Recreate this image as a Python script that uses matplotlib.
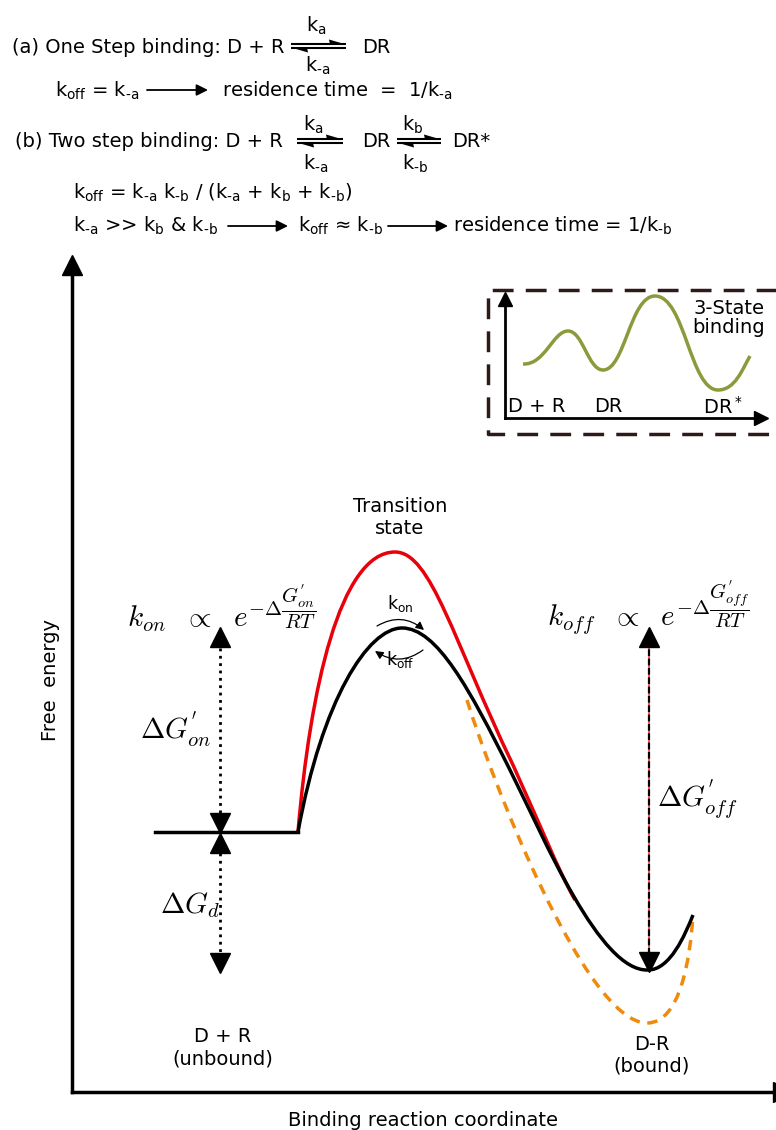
import matplotlib.pyplot as plt
from matplotlib.path import Path
from matplotlib.patches import PathPatch, Polygon

plt.rcParams['font.family'] = ['DejaVu Sans']
plt.rcParams['mathtext.fontset'] = 'dejavusans'

# energy profiles as cubic bezier nodes (start, c1, c2, end, c1, c2, end, ...), picture pixels
flat_x = [155, 298]
flat_y = [832, 832]
bound_x = [298, 322, 368, 402, 437, 470, 510, 545, 600, 648, 670, 685, 693]
bound_y = [832, 700, 628, 628, 628, 690, 770, 840, 972, 970, 970, 935, 915]
tight_x = [298, 310, 340, 395, 431, 453, 513, 538, 559, 575]
tight_y = [832, 690, 552, 552, 552, 640, 765, 820, 872, 900]
deep_x = [467, 490, 585, 647, 680, 690, 693]
deep_y = [700, 775, 1023, 1023, 1023, 960, 915]
# 3-state inset curve
inset_x = [523, 545, 553, 568, 583, 588, 603, 625, 630, 655, 685, 690, 718, 735, 742, 750]
inset_y = [364, 365, 331, 331, 331, 370, 370, 370, 296, 296, 296, 390, 390, 390, 370, 356]
inset_labels = ['D + R', 'DR', 'DR$^*$']

HY = '\u2010'  # short hyphen for the "-a" subscripts


def bezier(ax, xs, ys, **kw):
    verts = list(zip(xs, ys))
    codes = [Path.MOVETO] + [Path.CURVE4] * (len(verts) - 1)
    ax.add_patch(PathPatch(Path(verts, codes), fill=False, **kw))


def harpoon(ax, x0, x1, y):
    # equilibrium arrow: upper barb to the right, lower barb to the left
    ax.plot([x0, x1], [y - 2, y - 2], color='k', lw=1.5, solid_capstyle='butt')
    ax.plot([x0, x1], [y + 2, y + 2], color='k', lw=1.5, solid_capstyle='butt')
    ax.add_patch(Polygon([[x1, y - 1.5], [x1 - 16, y - 1.5], [x1 - 17, y - 6.5]], color='k', lw=0))
    ax.add_patch(Polygon([[x0, y + 1.5], [x0 + 16, y + 1.5], [x0 + 17, y + 6.5]], color='k', lw=0))


def arrow(ax, x0, x1, y):
    ax.annotate('', xy=(x1, y), xytext=(x0, y),
                arrowprops=dict(arrowstyle='-|>', lw=1.3, color='k', mutation_scale=17,
                                shrinkA=0, shrinkB=0))


def k(sub):
    return 'k$_\\mathrm{' + sub + '}$'


fig = plt.figure(figsize=(7.76, 11.3), dpi=100)
ax = fig.add_axes([0, 0, 1, 1])
ax.set_xlim(0, 776)
ax.set_ylim(1130, 0)
ax.axis('off')

fs = 14
# ---- reaction schemes
ax.text(12, 53, '(a) One Step binding: D + R', fontsize=fs, va='baseline')
harpoon(ax, 291, 346, 46)
ax.text(316, 32, k('a'), fontsize=fs, ha='center', va='baseline')
ax.text(318, 72, k(HY + 'a'), fontsize=fs, ha='center', va='baseline')
ax.text(362, 53, 'DR', fontsize=fs, va='baseline')

ax.text(55, 97, k('off') + ' = ' + k(HY + 'a'), fontsize=fs, va='baseline')
arrow(ax, 147, 208, 90)
ax.text(222, 97, 'residence time  =  1/' + k(HY + 'a'), fontsize=fs, va='baseline')

ax.text(15, 147, '(b) Two step binding: D + R', fontsize=fs, va='baseline')
harpoon(ax, 297, 343, 141)
ax.text(313, 131, k('a'), fontsize=fs, ha='center', va='baseline')
ax.text(316, 170, k(HY + 'a'), fontsize=fs, ha='center', va='baseline')
ax.text(362, 147, 'DR', fontsize=fs, va='baseline')
harpoon(ax, 397, 441, 141)
ax.text(413, 131, k('b'), fontsize=fs, ha='center', va='baseline')
ax.text(415, 170, k(HY + 'b'), fontsize=fs, ha='center', va='baseline')
ax.text(452, 147, 'DR*', fontsize=fs, va='baseline')

ax.text(73, 199, k('off') + ' = ' + k(HY + 'a') + ' ' + k(HY + 'b') + ' / (' + k(HY + 'a')
        + ' + ' + k('b') + ' + ' + k(HY + 'b') + ')', fontsize=fs, va='baseline')
ax.text(73, 232, k(HY + 'a') + ' >> ' + k('b') + ' & ' + k(HY + 'b'), fontsize=fs, va='baseline')
arrow(ax, 228, 288, 226)
ax.text(298, 232, k('off') + ' \u2248 ' + k(HY + 'b'), fontsize=fs, va='baseline')
arrow(ax, 388, 448, 226)
ax.text(453, 232, 'residence time = 1/' + k(HY + 'b'), fontsize=fs, va='baseline')

# ---- main axes
ax.plot([72, 72], [1092, 262], color='k', lw=2.5)
ax.plot([72], [265], marker='^', ms=14, color='k')
ax.plot([72, 776], [1092, 1092], color='k', lw=2.5)
ax.plot([783], [1092], marker='>', ms=14, color='k', clip_on=False)
ax.text(50, 680, 'Free  energy', rotation=90, fontsize=fs, ha='center', va='center')
ax.text(423, 1120, 'Binding reaction coordinate', fontsize=fs, ha='center', va='center')

# ---- inset
ax.plot([790, 488, 488, 790], [290, 290, 434, 434], color='#2e1a1a', lw=2.5,
        dashes=(6, 3.5), clip_on=False)
ax.plot([505, 505], [418, 300], color='k', lw=2)
ax.plot([505], [299], marker='^', ms=10, color='k')
ax.plot([505, 760], [418, 418], color='k', lw=2)
ax.plot([761], [418], marker='>', ms=10, color='k')
bezier(ax, inset_x, inset_y, color='#8c9a3b', lw=2.5)
for lab, x in zip(inset_labels, [537, 608, 723]):
    ax.text(x, 407, lab, fontsize=fs, ha='center', va='center')
ax.text(729, 318, '3-State\nbinding', fontsize=fs, ha='center', va='center', linespacing=1.05)

# ---- energy profiles
ax.plot(flat_x, flat_y, color='k', lw=2.5)
bezier(ax, tight_x, tight_y, color='#e8000b', lw=2.5)
bezier(ax, deep_x, deep_y, color='#f08a0c', lw=2.5, linestyle=(0, (3, 2.2)))
bezier(ax, bound_x, bound_y, color='k', lw=2.5)

# kon / koff small arcs at the top of the barrier
ax.annotate('', xy=(424, 630), xytext=(377, 626),
            arrowprops=dict(arrowstyle='-|>', lw=0.9, color='k', mutation_scale=12,
                            shrinkA=0, shrinkB=0, connectionstyle='arc3,rad=-0.35'))
ax.annotate('', xy=(375, 651), xytext=(423, 650),
            arrowprops=dict(arrowstyle='-|>', lw=0.9, color='k', mutation_scale=12,
                            shrinkA=0, shrinkB=0, connectionstyle='arc3,rad=-0.35'))
ax.text(400, 604, k('on'), fontsize=12.5, ha='center', va='center')
ax.text(400, 660, k('off'), fontsize=12.5, ha='center', va='center')

ax.text(400, 518, 'Transition\nstate', fontsize=fs, ha='center', va='center')
ax.text(223, 1048, 'D + R\n(unbound)', fontsize=fs, ha='center', va='center')
ax.text(652, 1055, 'D-R\n(bound)', fontsize=fs, ha='center', va='center')

# free energy differences
ax.plot([220, 220], [648, 814], color='k', lw=2, ls=':')
ax.plot([220], [637], marker='^', ms=14, color='k')
ax.plot([220], [823], marker='v', ms=14, color='k')
ax.plot([220], [843], marker='^', ms=14, color='k')
ax.plot([220, 220], [853, 954], color='k', lw=2, ls=':')
ax.plot([220], [963], marker='v', ms=14, color='k')

ax.plot([649, 649], [640, 960], color='#ff5050', lw=1.4)
ax.plot([649, 649], [640, 960], color='k', lw=1.6, dashes=(3, 1.2))
ax.plot([649], [637], marker='^', ms=14, color='k')
ax.plot([649], [962], marker='v', ms=14, color='k')

mf = 'cm'
mfs = 21
ax.text(222, 608, r"$k_{on}\ \ \propto\ \ e^{-\Delta\dfrac{G^{'}_{on}}{RT}}$", fontsize=mfs,
        ha='center', va='center', math_fontfamily=mf)
ax.text(648, 608, r"$k_{off}\ \ \propto\ \ e^{-\Delta\dfrac{G^{'}_{off}}{RT}}$", fontsize=mfs,
        ha='center', va='center', math_fontfamily=mf)
ax.text(175, 730, r"$\Delta G^{'}_{on}$", fontsize=mfs, ha='center', va='center', math_fontfamily=mf)
ax.text(190, 905, r"$\Delta G_{d}$", fontsize=mfs, ha='center', va='center', math_fontfamily=mf)
ax.text(697, 800, r"$\Delta G^{'}_{off}$", fontsize=mfs, ha='center', va='center', math_fontfamily=mf)

fig.savefig('out.png', dpi=100)
